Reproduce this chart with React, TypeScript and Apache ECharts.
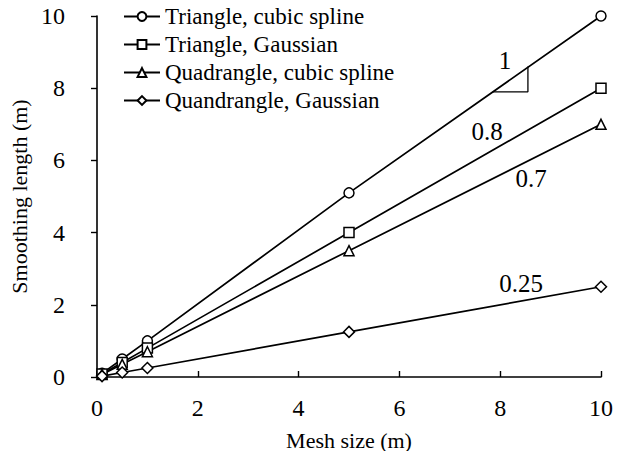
import React, { useEffect, useRef } from "react";
import * as echarts from "echarts";

const meshSizes = [0.1, 0.5, 1, 5, 10];
const triCubic = [0.1, 0.5, 1.0, 5.1, 10.0];
const triGauss = [0.08, 0.4, 0.8, 4.0, 8.0];
const quadCubic = [0.07, 0.35, 0.7, 3.5, 7.0];
const quadGauss = [0.025, 0.125, 0.25, 1.25, 2.5];
const seriesNames = [
  "Triangle, cubic spline",
  "Triangle, Gaussian",
  "Quadrangle, cubic spline",
  "Quandrangle, Gaussian",
];
const symbols = ["circle", "rect", "triangle", "diamond"];
const slopeTriangle: [number, number][] = [
  [7.85, 7.9],
  [8.55, 7.9],
  [8.55, 8.6],
];
const slopeLabels = [
  { text: "1", x: 505, y: 60 },
  { text: "0.8", x: 487, y: 131 },
  { text: "0.7", x: 531, y: 178 },
  { text: "0.25", x: 521, y: 283 },
];

const FONT = "Times New Roman, Liberation Serif, DejaVu Serif, serif";

export default function App() {
  const ref = useRef<HTMLDivElement>(null);
  useEffect(() => {
    if (!ref.current) return;
    const chart = echarts.init(ref.current, null, { renderer: "svg" });
    const allValues = [triCubic, triGauss, quadCubic, quadGauss];
    const series: any[] = allValues.map((vals, i) => ({
      name: seriesNames[i],
      type: "line",
      data: meshSizes.map((x, j) => [x, vals[j]]),
      symbol: symbols[i],
      symbolSize: i === 3 ? 11 : 10,
      showAllSymbol: true,
      lineStyle: { color: "#000", width: 1.7 },
      itemStyle: { color: "#fff", borderColor: "#000", borderWidth: 1.5 },
      z: 3,
    }));
    series.push({
      name: "slope",
      type: "line",
      data: slopeTriangle,
      symbol: "none",
      silent: true,
      lineStyle: { color: "#000", width: 1.3 },
      z: 2,
    });
    chart.setOption({
      animation: false,
      backgroundColor: "#fff",
      textStyle: { fontFamily: FONT },
      grid: { left: 97, right: 21, top: 16, bottom: 82 },
      legend: {
        data: seriesNames,
        orient: "vertical",
        left: 118,
        top: 3,
        padding: [2, 5, 5, 5],
        itemWidth: 36,
        itemHeight: 11,
        itemGap: 5,
        textStyle: { fontFamily: FONT, fontSize: 23, color: "#000" },
      },
      xAxis: {
        type: "value",
        min: 0,
        max: 10,
        interval: 2,
        name: "Mesh size (m)",
        nameLocation: "middle",
        nameGap: 52,
        nameTextStyle: { fontFamily: FONT, fontSize: 22, color: "#000" },
        axisLine: { lineStyle: { color: "#000", width: 1.6 } },
        axisTick: { inside: true, length: 6, lineStyle: { color: "#000", width: 1.4 } },
        axisLabel: { fontFamily: FONT, fontSize: 24, color: "#000", margin: 19 },
        splitLine: { show: false },
      },
      yAxis: {
        type: "value",
        min: 0,
        max: 10,
        interval: 2,
        name: "Smoothing length (m)",
        nameLocation: "middle",
        nameGap: 64,
        nameTextStyle: { fontFamily: FONT, fontSize: 22, color: "#000" },
        axisLine: { lineStyle: { color: "#000", width: 1.6 } },
        axisTick: { inside: false, length: 6, lineStyle: { color: "#000", width: 1.4 } },
        axisLabel: { fontFamily: FONT, fontSize: 24, color: "#000", margin: 32 },
        splitLine: { show: false },
      },
      graphic: slopeLabels.map((l) => ({
        type: "text",
        x: l.x,
        y: l.y,
        style: {
          text: l.text,
          fontFamily: FONT,
          fontSize: 25,
          fill: "#000",
          textAlign: "center",
          textVerticalAlign: "middle",
        },
      })),
      series,
    });
    return () => chart.dispose();
  }, []);
  return <div ref={ref} style={{ width: 622, height: 459, margin: -8 }} />;
}
